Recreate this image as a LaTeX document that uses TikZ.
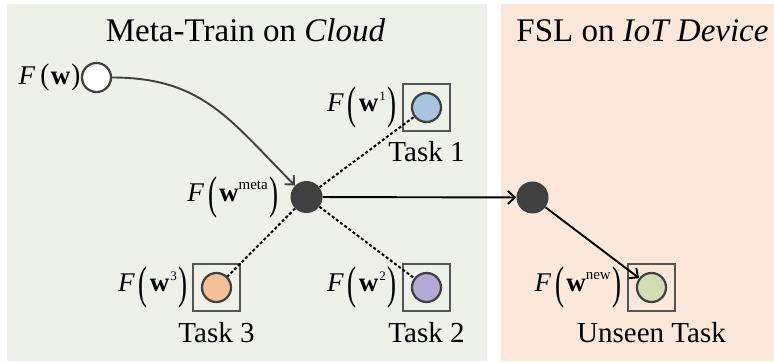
\documentclass[tikz,border=0pt]{standalone}
\usepackage{fontspec}
\usepackage{graphicx}
\setmainfont{Liberation Serif}
\usetikzlibrary{arrows.meta}
\definecolor{cloudbg}{HTML}{EEF1E7}
\definecolor{iotbg}{HTML}{FBE8DA}
\definecolor{dk}{HTML}{404040}
\definecolor{boxc}{HTML}{555555}
\definecolor{cA}{HTML}{A7C4E0}
\definecolor{cB}{HTML}{B4A8D4}
\definecolor{cC}{HTML}{F4C097}
\definecolor{cN}{HTML}{D3DDB4}
\newcommand{\mylp}{\raisebox{-0.25em}{\scalebox{1}[1.7]{(}}}
\newcommand{\myrp}{\raisebox{-0.25em}{\scalebox{1}[1.7]{)}}}
\newcommand{\myFW}[1]{\textit{F}\kern4pt\mylp\kern2pt\textbf{w}#1\kern2pt\myrp}
\newcommand{\mysupw}[1]{\raisebox{12pt}{\fontsize{15}{15}\selectfont #1}}
\newcommand{\mysupd}[1]{\raisebox{11pt}{\fontsize{13}{13}\selectfont\kern1pt #1}}
\begin{document}
\begin{tikzpicture}[x=1pt,y=1pt,
  paneltitle/.style={font=\fontsize{33}{33}\selectfont, anchor=base, inner sep=0pt},
  tasklbl/.style={font=\fontsize{29}{29}\selectfont, anchor=base, inner sep=0pt},
  flbl/.style={font=\fontsize{27}{27}\selectfont, anchor=east, inner sep=0pt},
  taskbox/.style={draw=boxc, line width=2.2pt, rectangle, minimum size=47pt, inner sep=0pt},
  tcirc/.style={circle, draw=dk, line width=2.2pt, minimum size=29pt, inner sep=0pt},
  dotnode/.style={circle, fill=dk, minimum size=32pt, inner sep=0pt},
  dashedge/.style={dash pattern=on 3pt off 2.2pt, line width=2pt},
  arr/.style={line width=1.9pt, -{Straight Barb[length=7pt,width=13pt,line width=1.9pt]}}
]
\useasboundingbox (0,0) rectangle (774,362);
\fill[white] (0,0) rectangle (774,362);
% panels
\fill[cloudbg] (7,1) rectangle (487,358);
\fill[iotbg] (501,1) rectangle (774,358);
\node[paneltitle] (t1) at (245.5,320) {Meta-Train on \textit{Cloud}};
\node[paneltitle] (t2) at (642.5,320) {FSL on \textit{IoT Device}};

% nodes
\node[tcirc, fill=white] (W) at (96.5,284.5) {};
\node[flbl] (lW) at (80.5,284.5) {\textit{F}\kern5pt\scalebox{1}[1.1]{(}\kern1.5pt\textbf{w}\kern1pt\scalebox{1}[1.1]{)}};

\node[dotnode] (M) at (306.5,165) {};
\node[flbl] (lM) at (279,165) {\myFW{\mysupw{meta}}};

\node[dotnode] (R) at (532.5,164.5) {};

\node[taskbox] (B1) at (426.5,254.5) {};
\node[tcirc, fill=cA] (C1) at (426.5,254.5) {};
\node[flbl] (l1) at (397,254.5) {\myFW{\mysupd{1}}};
\node[tasklbl] (n1) at (426.5,200) {Task 1};

\node[taskbox] (B2) at (426.5,74.5) {};
\node[tcirc, fill=cB] (C2) at (426.5,74.5) {};
\node[flbl] (l2) at (397,74.5) {\myFW{\mysupd{2}}};
\node[tasklbl] (n2) at (426.5,20) {Task 2};

\node[taskbox] (B3) at (216.5,74.5) {};
\node[tcirc, fill=cC] (C3) at (216.5,74.5) {};
\node[flbl] (l3) at (188,74.5) {\myFW{\mysupd{3}}};
\node[tasklbl] (n3) at (216.5,20) {Task 3};

\node[taskbox] (BN) at (651.5,74.5) {};
\node[tcirc, fill=cN] (CN) at (651.5,74.5) {};
\node[flbl] (lN) at (622,74.5) {\myFW{\mysupw{new}}};
\node[tasklbl] (nN) at (651.5,20) {Unseen Task};

% connectors
\draw[arr, dk] (W) to[out=0, in=135, looseness=1.1] (M);
\draw[dashedge] (M) -- (C1);
\draw[dashedge] (M) -- (C2);
\draw[dashedge] (M) -- (C3);
\draw[arr] (M) -- (R);
\draw[arr] (R) -- (CN);
\end{tikzpicture}
\end{document}
